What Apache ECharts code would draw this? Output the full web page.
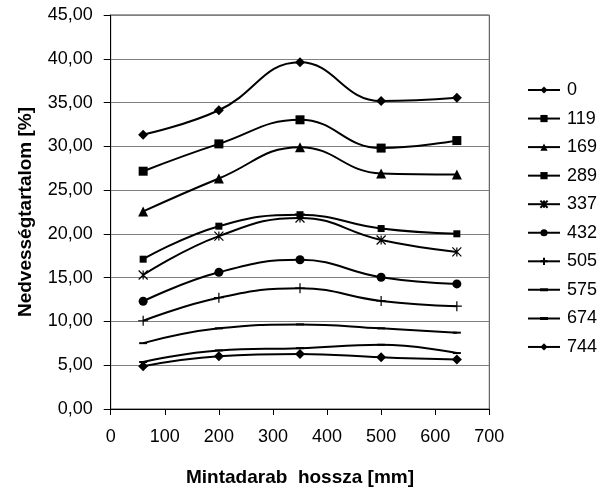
<!DOCTYPE html>
<html><head><meta charset="utf-8">
<script src="https://cdn.jsdelivr.net/npm/echarts@6/dist/echarts.min.js"></script>
<style>html,body{margin:0;padding:0;background:#fff}#c{width:607px;height:492px}</style>
</head><body><div id="c"></div>
<script>
var xValues = [60, 200, 350, 500, 640];
var seriesNames = ['0','119','169','289','337','432','505','575','674','744'];
var s0   = [31.33, 34.12, 39.60, 35.17, 35.55];
var s119 = [27.16, 30.28, 33.03, 29.80, 30.66];
var s169 = [22.57, 26.33, 29.90, 26.90, 26.78];
var s289 = [17.11, 20.88, 22.19, 20.61, 20.01];
var s337 = [15.31, 19.75, 21.82, 19.30, 17.94];
var s432 = [12.30, 15.61, 17.04, 15.05, 14.29];
var s505 = [10.08, 12.71, 13.80, 12.34, 11.74];
var s575 = [7.52, 9.21, 9.66, 9.21, 8.72];
var s674 = [5.37, 6.69, 6.95, 7.33, 6.39];
var s744 = [4.89, 6.02, 6.28, 5.90, 5.64];
var yTicks = [0,5,10,15,20,25,30,35,40,45];
var xTicks = [0,100,200,300,400,500,600,700];

var allData = [s0,s119,s169,s289,s337,s432,s505,s575,s674,s744];
var symbols = [
  ['diamond', 10],
  ['rect', 9],
  ['triangle', 10],
  ['rect', 7],
  ['path://M0,0L10,10M10,0L0,10M5,0L5,10', 9],
  ['circle', 9],
  ['path://M5,0L5,10M0,5L10,5', 10],
  ['path://M0,0h8v2h-8z', [8,2]],
  ['path://M0,0h8v2h-8z', [8,2]],
  ['diamond', 10]
];
var dashIcon = 'path://M0,0.5h32v2h-32zM12,0h8v3h-8z';
var font = '"Liberation Sans", Arial, sans-serif';
var series = seriesNames.map(function(n, i){
  var isStroke = (i === 4 || i === 6);
  return {
    name: n, type: 'line', smooth: 0.45,
    data: xValues.map(function(x, j){ return [x, allData[i][j]]; }),
    symbol: symbols[i][0], symbolSize: symbols[i][1],
    showAllSymbol: true,
    lineStyle: {color: '#000', width: 2},
    itemStyle: {color: '#000', borderColor: '#000', borderWidth: isStroke ? 1.2 : 0},
    emphasis: {disabled: true},
    animation: false,
    z: 10 - i
  };
});
var legendData = seriesNames.map(function(n, i){
  return (i === 7 || i === 8) ? {name: n, icon: dashIcon} : {name: n};
});
var chart = echarts.init(document.getElementById('c'), null, {renderer: 'canvas'});
chart.setOption({
  backgroundColor: '#fff',
  animation: false,
  grid: {left: 110.7, right: 117.7, top: 15, bottom: 78, show: true, borderColor: '#404040', borderWidth: 1},
  xAxis: {
    type: 'value', min: xTicks[0], max: xTicks[xTicks.length-1], interval: 100,
    axisLine: {show: true, lineStyle: {color: '#000', width: 1}},
    axisTick: {show: true, inside: false, length: 6, lineStyle: {color: '#000'}},
    axisLabel: {color: '#000', fontFamily: font, fontSize: 18, margin: 19},
    splitLine: {show: false},
    name: 'Mintadarab  hossza [mm]', nameLocation: 'middle', nameGap: 59,
    nameTextStyle: {color: '#000', fontFamily: font, fontSize: 19, fontWeight: 'bold'}
  },
  yAxis: {
    type: 'value', min: yTicks[0], max: yTicks[yTicks.length-1], interval: 5,
    axisLine: {show: true, lineStyle: {color: '#000', width: 1}},
    axisTick: {show: true, inside: false, length: 7, lineStyle: {color: '#000'}},
    axisLabel: {color: '#000', fontFamily: font, fontSize: 18, margin: 18,
      formatter: function(v){ return v.toFixed(2).replace('.', ','); }},
    splitLine: {show: true, lineStyle: {color: '#808080', width: 1}},
    name: 'Nedvességtartalom [%]', nameLocation: 'middle', nameGap: 75, nameRotate: 90,
    nameTextStyle: {color: '#000', fontFamily: font, fontSize: 19, fontWeight: 'bold'}
  },
  legend: {
    orient: 'vertical', left: 527, top: 81, padding: 0,
    itemWidth: 32, itemHeight: 9, itemGap: 10.55, symbolKeepAspect: true,
    textStyle: {color: '#000', fontFamily: font, fontSize: 18, padding: [0,0,0,2]},
    data: legendData,
    selectedMode: false
  },
  series: series
});
</script></body></html>
